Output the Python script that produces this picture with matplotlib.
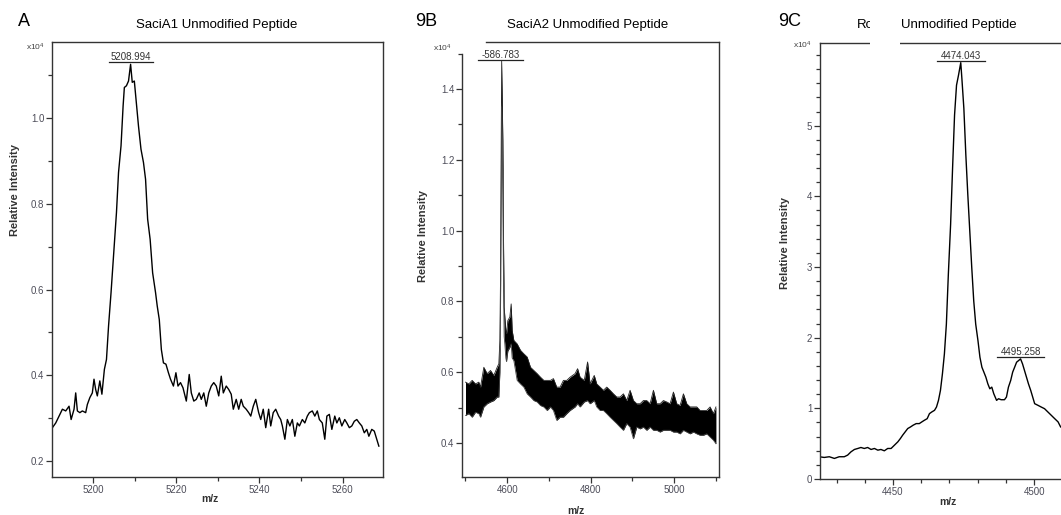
import matplotlib
matplotlib.use("Agg")
import matplotlib.pyplot as plt
from matplotlib.patches import Rectangle
from matplotlib.ticker import MultipleLocator, FormatStrFormatter

plt.rcParams['font.family'] = ['Liberation Sans', 'DejaVu Sans']
plt.rcParams['mathtext.default'] = 'regular'

# ---- panel A: SaciA1 (m/z, intensity x1e4)
mz_a = [5190.2, 5191.0, 5191.8, 5192.6, 5193.4, 5194.2, 5194.7, 5195.4, 5195.8, 5196.2,
        5196.8, 5197.4, 5198.2, 5198.6, 5199.2, 5199.8, 5200.2, 5200.6, 5201.0, 5201.6,
        5202.1, 5202.7, 5203.2, 5203.7, 5204.3, 5204.9, 5205.6, 5206.1, 5206.7, 5207.2,
        5207.5, 5208.0, 5208.5, 5209.0, 5209.4, 5209.9, 5210.3, 5210.9, 5211.5, 5212.1,
        5212.6, 5213.1, 5213.7, 5214.3, 5215.0, 5215.4, 5215.9, 5216.4, 5216.9, 5217.5,
        5218.1, 5218.6, 5219.3, 5219.9, 5220.4, 5221.0, 5221.6, 5222.4, 5223.1, 5223.6,
        5224.2, 5224.8, 5225.5, 5226.0, 5226.6, 5227.2, 5227.8, 5228.4, 5229.0, 5229.6,
        5230.2, 5230.8, 5231.3, 5232.0, 5232.6, 5233.2, 5233.7, 5234.4, 5235.0, 5235.6,
        5236.1, 5236.8, 5237.4, 5237.9, 5238.5, 5239.1, 5239.8, 5240.3, 5240.9, 5241.5,
        5242.2, 5242.7, 5243.3, 5243.9, 5244.6, 5245.1, 5245.5, 5246.1, 5246.7, 5247.3,
        5247.9, 5248.5, 5249.1, 5249.6, 5250.3, 5250.9, 5251.5, 5252.0, 5252.7, 5253.3,
        5253.9, 5254.4, 5255.1, 5255.7, 5256.2, 5256.8, 5257.4, 5258.1, 5258.6, 5259.2,
        5259.8, 5260.5, 5261.0, 5261.6, 5262.2, 5262.8, 5263.4, 5264.0, 5264.6, 5265.2,
        5265.8, 5266.3, 5267.0, 5267.6, 5268.2, 5268.7]
int_a = [0.278, 0.289, 0.305, 0.321, 0.317, 0.328, 0.297, 0.321, 0.359, 0.317,
         0.313, 0.317, 0.313, 0.332, 0.348, 0.359, 0.391, 0.367, 0.352, 0.387,
         0.356, 0.414, 0.437, 0.515, 0.593, 0.678, 0.779, 0.873, 0.935, 1.028,
         1.071, 1.075, 1.086, 1.125, 1.083, 1.086, 1.044, 0.981, 0.927, 0.896,
         0.857, 0.764, 0.717, 0.639, 0.593, 0.562, 0.530, 0.460, 0.429, 0.426,
         0.406, 0.391, 0.375, 0.406, 0.375, 0.383, 0.371, 0.340, 0.402, 0.359,
         0.340, 0.344, 0.359, 0.344, 0.359, 0.328, 0.359, 0.375, 0.383, 0.375,
         0.352, 0.398, 0.359, 0.375, 0.367, 0.356, 0.321, 0.344, 0.321, 0.344,
         0.328, 0.321, 0.313, 0.305, 0.328, 0.344, 0.313, 0.297, 0.321, 0.278,
         0.321, 0.282, 0.313, 0.321, 0.305, 0.297, 0.282, 0.251, 0.297, 0.282,
         0.297, 0.258, 0.289, 0.282, 0.297, 0.289, 0.305, 0.313, 0.317, 0.305,
         0.317, 0.297, 0.289, 0.251, 0.305, 0.309, 0.274, 0.305, 0.289, 0.301,
         0.282, 0.297, 0.289, 0.278, 0.282, 0.293, 0.297, 0.289, 0.282, 0.266,
         0.274, 0.258, 0.274, 0.270, 0.251, 0.235]
peak_a = (5208.994, "5208.994")

# ---- panel B: SaciA2 (dense noisy trace, read as upper / lower envelope)
mz_b = [4500, 4508, 4516, 4524, 4532, 4536, 4544, 4552, 4560, 4568,
        4576, 4580, 4582.5, 4584.1, 4585.7, 4586.8, 4589.6, 4591.2, 4592.8, 4594.4,
        4596.8, 4598.4, 4601.6, 4606.4, 4609.6, 4612, 4616, 4624, 4632, 4640,
        4648, 4656, 4664, 4672, 4680, 4688, 4696, 4704, 4711, 4719,
        4727, 4735, 4743, 4751, 4763, 4769, 4775, 4785, 4793, 4799,
        4809, 4815, 4823, 4831, 4839, 4847, 4855, 4863, 4871, 4879,
        4887, 4895, 4903, 4911, 4919, 4927, 4935, 4943, 4951, 4959,
        4967, 4975, 4983, 4991, 4999, 5007, 5015, 5023, 5031, 5039,
        5047, 5055, 5063, 5071, 5079, 5087, 5095, 5101]
upper_b = [0.572, 0.567, 0.577, 0.567, 0.572, 0.558, 0.614, 0.596, 0.605, 0.591,
           0.614, 0.624, 0.690, 0.878, 1.254, 1.480, 1.254, 0.972, 0.784, 0.756,
           0.718, 0.709, 0.746, 0.756, 0.793, 0.718, 0.690, 0.680, 0.662, 0.652,
           0.643, 0.614, 0.605, 0.596, 0.586, 0.577, 0.577, 0.577, 0.582, 0.558,
           0.558, 0.577, 0.577, 0.586, 0.596, 0.610, 0.586, 0.577, 0.629, 0.567,
           0.591, 0.567, 0.558, 0.549, 0.558, 0.549, 0.539, 0.530, 0.530, 0.539,
           0.520, 0.549, 0.520, 0.511, 0.511, 0.520, 0.520, 0.511, 0.549, 0.511,
           0.511, 0.520, 0.516, 0.511, 0.544, 0.511, 0.506, 0.539, 0.511, 0.502,
           0.502, 0.502, 0.492, 0.492, 0.492, 0.502, 0.483, 0.502]
lower_b = [0.478, 0.483, 0.473, 0.487, 0.483, 0.473, 0.502, 0.511, 0.516, 0.520,
           0.530, 0.530, 0.600, 0.800, 1.100, 1.350, 1.100, 0.850, 0.700, 0.680,
           0.640, 0.630, 0.660, 0.670, 0.680, 0.640, 0.633, 0.577, 0.567, 0.558,
           0.539, 0.530, 0.520, 0.516, 0.506, 0.502, 0.492, 0.502, 0.492, 0.464,
           0.473, 0.473, 0.483, 0.492, 0.502, 0.511, 0.502, 0.516, 0.520, 0.511,
           0.520, 0.502, 0.492, 0.492, 0.483, 0.473, 0.464, 0.455, 0.445, 0.436,
           0.455, 0.445, 0.412, 0.445, 0.440, 0.445, 0.436, 0.445, 0.436, 0.436,
           0.431, 0.436, 0.436, 0.436, 0.431, 0.431, 0.426, 0.436, 0.431, 0.426,
           0.431, 0.426, 0.422, 0.422, 0.426, 0.417, 0.408, 0.398]
peak_b = (4586.783, "-586.783")

# ---- panel C
mz_c = [4423.8, 4425.6, 4427.4, 4429.2, 4430.9, 4432.7, 4433.9, 4435.1, 4436.3, 4437.5,
        4438.6, 4439.8, 4441.0, 4442.2, 4443.4, 4444.6, 4445.7, 4446.9, 4448.1, 4449.3,
        4450.5, 4451.7, 4452.6, 4453.4, 4454.3, 4455.2, 4456.2, 4457.1, 4458.2, 4459.3,
        4460.2, 4461.1, 4462.1, 4462.9, 4463.7, 4464.7, 4465.4, 4466.1, 4466.8, 4467.5,
        4468.2, 4468.9, 4469.6, 4470.4, 4471.1, 4471.8, 4472.5, 4473.2, 4474.0, 4474.4,
        4475.1, 4475.8, 4476.5, 4477.2, 4477.9, 4478.6, 4479.3, 4480.1, 4480.8, 4481.5,
        4482.2, 4482.9, 4483.6, 4484.3, 4485.0, 4485.7, 4486.7, 4487.4, 4488.3, 4489.5,
        4490.2, 4490.9, 4491.7, 4492.4, 4493.1, 4493.8, 4494.5, 4495.2, 4495.9, 4496.6,
        4497.3, 4498.0, 4498.8, 4499.5, 4500.2, 4501.4, 4502.5, 4503.7, 4504.9, 4506.1,
        4507.3, 4508.5, 4509.4]
int_c = [0.315, 0.305, 0.315, 0.291, 0.315, 0.315, 0.338, 0.385, 0.418, 0.432,
         0.446, 0.432, 0.446, 0.418, 0.432, 0.408, 0.418, 0.399, 0.432, 0.432,
         0.479, 0.526, 0.573, 0.620, 0.667, 0.714, 0.737, 0.761, 0.784, 0.784,
         0.808, 0.831, 0.854, 0.925, 0.948, 0.972, 1.019, 1.113, 1.254, 1.488,
         1.770, 2.192, 2.897, 3.601, 4.399, 5.150, 5.573, 5.714, 5.892, 5.667,
         5.244, 4.587, 4.023, 3.507, 2.991, 2.521, 2.192, 1.958, 1.723, 1.582,
         1.512, 1.441, 1.347, 1.277, 1.300, 1.207, 1.113, 1.136, 1.122, 1.122,
         1.160, 1.300, 1.394, 1.512, 1.582, 1.653, 1.676, 1.700, 1.629, 1.535,
         1.441, 1.347, 1.254, 1.160, 1.066, 1.042, 1.019, 0.995, 0.948, 0.901,
         0.854, 0.808, 0.737]
peaks_c = [(4474.043, "4474.043"), (4495.258, "4495.258")]

W, H = 1061, 515
fig = plt.figure(figsize=(W / 100, H / 100), dpi=100)


def px_axes(l, t, r, b):
    return fig.add_axes([l / W, 1 - b / H, (r - l) / W, (b - t) / H])


def ftext(x, y, s, **kw):
    return fig.text(x / W, 1 - y / H, s, **kw)


def style(ax):
    for sp in ax.spines.values():
        sp.set_linewidth(1.0)
        sp.set_color('#333333')
    ax.tick_params(which='both', direction='out', color='#333333', width=0.9,
                   labelcolor='#4d4d59', labelsize=7, pad=1.5)
    ax.tick_params(which='major', length=4)
    ax.tick_params(which='minor', length=3)


def peak_label(ax, x, y, txt, half):
    ax.plot([x - half, x + half], [y, y], color='#222222', lw=0.9, clip_on=False)
    ax.text(x, y, txt, ha='center', va='bottom', fontsize=7, color='#333333', clip_on=False)


# ---- A
ax = px_axes(52, 42, 383, 477)
style(ax)
ax.plot(mz_a, int_a, color='black', lw=1.0)
ax.set_xlim(5190.1, 5269.7)
ax.set_ylim(0.163, 1.177)
ax.xaxis.set_major_locator(MultipleLocator(20))
ax.xaxis.set_minor_locator(MultipleLocator(10))
ax.yaxis.set_major_locator(MultipleLocator(0.2))
ax.yaxis.set_minor_locator(MultipleLocator(0.1))
ax.yaxis.set_major_formatter(FormatStrFormatter('%.1f'))
peak_label(ax, peak_a[0], 1.131, peak_a[1], 5.3)

ftext(18, 22, "A", fontsize=13, va='center', ha='left')
ftext(217, 25, "SaciA1 Unmodified Peptide", fontsize=9.5, va='center', ha='center')
ftext(35, 47, r"x10$^4$", fontsize=6, va='center', ha='center', color='#444444')
ftext(15, 190, "Relative Intensity", fontsize=8, fontweight='bold', rotation=90,
      va='center', ha='center', color='#333333')
ftext(210, 499, "m/z", fontsize=7.5, fontweight='bold', va='center', ha='center', color='#333333')

# ---- B
ax = px_axes(462, 42, 719, 477)
style(ax)
ax.fill_between(mz_b, lower_b, upper_b, color='black', lw=0)
ax.plot(mz_b, upper_b, color='#222222', lw=0.6)
ax.plot(mz_b, lower_b, color='#444444', lw=0.6)
ax.set_xlim(4491.6, 5108.4)
ax.set_ylim(0.304, 1.533)
ax.spines['left'].set_bounds(0.304, 1.50)
ax.spines['top'].set_bounds(4549, 5108.4)
ax.xaxis.set_major_locator(MultipleLocator(200))
ax.xaxis.set_minor_locator(MultipleLocator(100))
ax.yaxis.set_major_locator(MultipleLocator(0.2))
ax.yaxis.set_minor_locator(MultipleLocator(0.1))
ax.yaxis.set_major_formatter(FormatStrFormatter('%.1f'))
peak_label(ax, 4584, 1.482, peak_b[1], 54)

ftext(415, 22, "9B", fontsize=13, va='center', ha='left')
ftext(588, 25, "SaciA2 Unmodified Peptide", fontsize=9.5, va='center', ha='center')
ftext(442, 48, r"x10$^4$", fontsize=6, va='center', ha='center', color='#444444')
ftext(423, 236, "Relative Intensity", fontsize=8, fontweight='bold', rotation=90,
      va='center', ha='center', color='#333333')
ftext(576, 511, "m/z", fontsize=7.5, fontweight='bold', va='center', ha='center', color='#333333')

# ---- C
ax = px_axes(820, 43, 1075, 479)
style(ax)
ax.plot(mz_c, int_c, color='black', lw=1.0)
ax.set_xlim(4424.1, 4514.5)
ax.set_ylim(0, 6.17)
ax.xaxis.set_major_locator(MultipleLocator(50))
ax.xaxis.set_minor_locator(MultipleLocator(10))
ax.set_yticks([0, 1, 2, 3, 4, 5])
ax.yaxis.set_minor_locator(MultipleLocator(0.2))
ax.yaxis.set_major_formatter(FormatStrFormatter('%d'))
peak_label(ax, peaks_c[0][0], 5.92, peaks_c[0][1], 8.4)
peak_label(ax, peaks_c[1][0], 1.73, peaks_c[1][1], 8.3)

ftext(778, 22, "9C", fontsize=13, va='center', ha='left')
ftext(857, 25, "Ro", fontsize=9.5, va='center', ha='left')
ftext(901, 25, "Unmodified Peptide", fontsize=9.5, va='center', ha='left')
ftext(802, 45, r"x10$^4$", fontsize=6, va='center', ha='center', color='#444444')
ftext(785, 243, "Relative Intensity", fontsize=8, fontweight='bold', rotation=90,
      va='center', ha='center', color='#333333')
ftext(948, 502, "m/z", fontsize=7.5, fontweight='bold', va='center', ha='center', color='#333333')

# blank strip over the title / frame of panel C
fig.add_artist(Rectangle((870 / W, 1 - 50 / H), 30 / W, 40 / H, transform=fig.transFigure,
                         facecolor='white', edgecolor='none', zorder=10))

fig.savefig("out.png", dpi=100, facecolor='white')
